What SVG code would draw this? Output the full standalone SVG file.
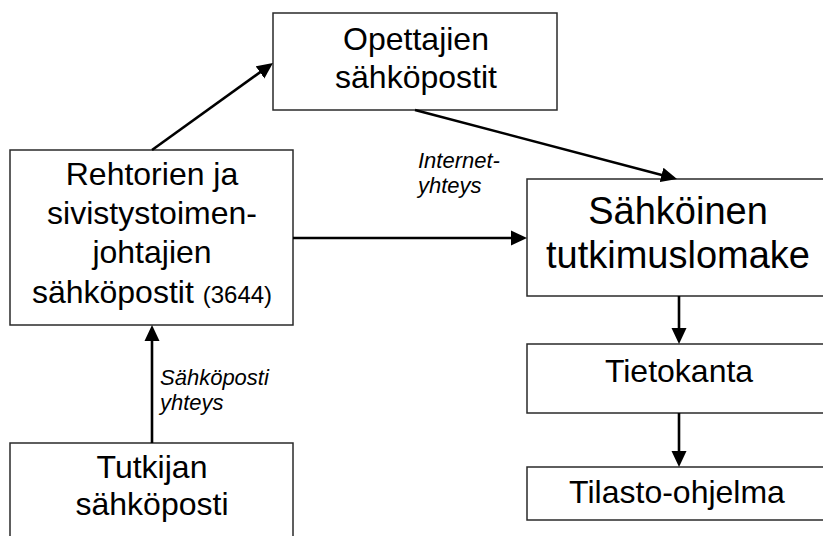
<svg xmlns="http://www.w3.org/2000/svg" width="823" height="536" viewBox="0 0 823 536">
  <style>
    .box { fill: #ffffff; stroke: #2a2a2a; stroke-width: 1.5; }
    .t { font-family: "Liberation Sans", Arial, sans-serif; font-size: 32px; fill: #000; text-anchor: middle; }
    .big { font-size: 38px; }
    .small { font-size: 24px; }
    .lbl { font-family: "Liberation Sans", Arial, sans-serif; font-size: 22px; font-style: italic; fill: #000; }
    .edge { stroke: #000; stroke-width: 2.6; fill: none; marker-end: url(#arrow); }
  </style>
  <defs>
    <marker id="arrow" viewBox="0 0 16 16" refX="11" refY="8" markerWidth="16" markerHeight="16" markerUnits="userSpaceOnUse" orient="auto">
      <path d="M0,0.5 L16,8 L0,15.5 z" fill="#000"/>
    </marker>
  </defs>
  <rect width="823" height="536" fill="#ffffff"/>

  <g id="node-opettajien">
    <rect class="box" x="273" y="13" width="284" height="97"/>
    <text class="t" x="416" y="50">Opettajien</text>
    <text class="t" x="416" y="88">sähköpostit</text>
  </g>

  <g id="node-rehtorien">
    <rect class="box" x="10" y="150" width="283" height="175"/>
    <text class="t" x="152" y="185">Rehtorien ja</text>
    <text class="t" x="152" y="224">sivistystoimen-</text>
    <text class="t" x="152" y="263">johtajien</text>
    <text class="t" x="152" y="303">sähköpostit <tspan class="small">(3644)</tspan></text>
  </g>

  <g id="node-lomake">
    <rect class="box" x="527" y="179" width="310" height="117"/>
    <text class="t big" x="678" y="224">Sähköinen</text>
    <text class="t big" x="678" y="268">tutkimuslomake</text>
  </g>

  <g id="node-tietokanta">
    <rect class="box" x="527" y="344" width="310" height="69"/>
    <text class="t" x="679" y="382">Tietokanta</text>
  </g>

  <g id="node-tilasto">
    <rect class="box" x="527" y="467" width="310" height="53"/>
    <text class="t" x="677" y="503">Tilasto-ohjelma</text>
  </g>

  <g id="node-tutkijan">
    <rect class="box" x="10" y="443" width="283" height="110"/>
    <text class="t" x="152" y="478">Tutkijan</text>
    <text class="t" x="152" y="515">sähköposti</text>
  </g>

  <g id="connectors">
    <line class="edge" x1="152" y1="150" x2="268.9" y2="65.9"/>
    <line class="edge" x1="415" y1="110" x2="672.2" y2="177.7"/>
    <line class="edge" x1="293" y1="238" x2="522" y2="238"/>
    <line class="edge" x1="152" y1="443" x2="152" y2="330"/>
    <line class="edge" x1="679" y1="296" x2="679" y2="339"/>
    <line class="edge" x1="679" y1="413" x2="679" y2="462"/>
    <text class="lbl" x="418" y="168">Internet-</text>
    <text class="lbl" x="418" y="193">yhteys</text>
    <text class="lbl" x="160" y="385">Sähköposti</text>
    <text class="lbl" x="160" y="410">yhteys</text>
  </g>
</svg>
